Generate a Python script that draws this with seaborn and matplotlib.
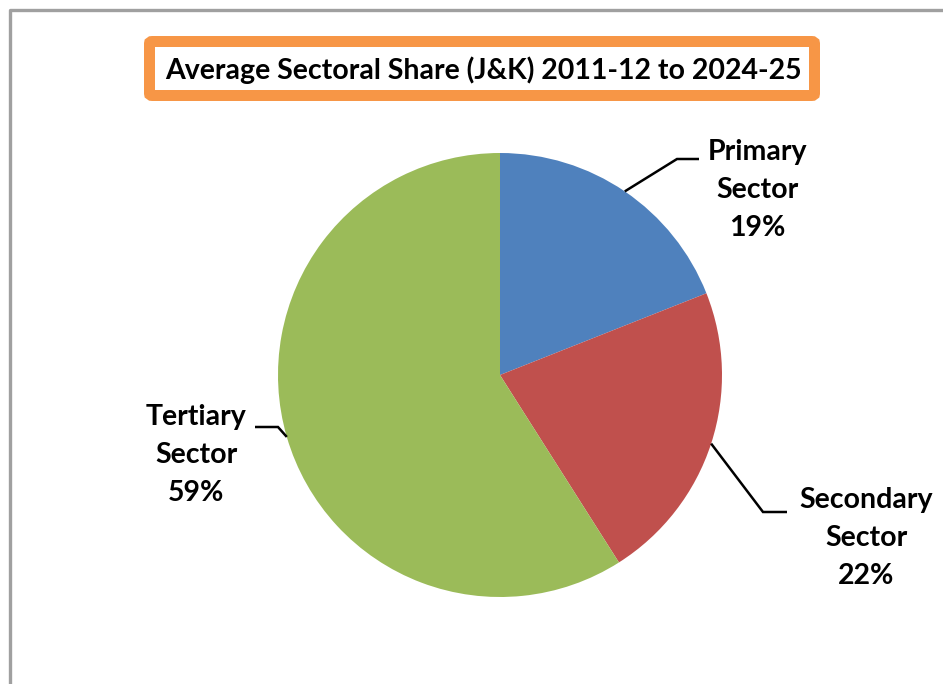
import numpy as np
import matplotlib
matplotlib.use("Agg")
import matplotlib.pyplot as plt
import matplotlib.patches as mpatches
from matplotlib.lines import Line2D
import seaborn as sns

# ---- data ----
sectors = ["Primary\nSector", "Secondary\nSector", "Tertiary\nSector"]
shares = [19, 22, 59]
colors = ["#4F81BD", "#C0504D", "#9BBB59"]
title = "Average Sectoral Share (J&K) 2011-12 to 2024-25"

sns.set_theme(style="white")
plt.rcParams['font.family'] = ['Lato', 'DejaVu Sans']

W, H = 943, 684
DPI = 100
fig = plt.figure(figsize=(W / DPI, H / DPI), dpi=DPI)
fig.patch.set_facecolor("white")

# pixel geometry of the pie
cx, cy, R = 500, 375, 222
ax = fig.add_axes([0, 0, 1, 1])
ax.set_axis_off()

wedges, _ = ax.pie(shares, colors=colors, startangle=90, counterclock=False,
                   radius=1.0, center=(0, 0),
                   wedgeprops=dict(linewidth=0, edgecolor="none"))
ax.set_xlim((0 - cx) / R, (W - cx) / R)
ax.set_ylim((cy - H) / R, cy / R)
ax.set_aspect("auto")

def px(x, y):
    return ((x - cx) / R, (cy - y) / R)

# label layout (pixel positions): elbow, end of leader, text centre
layout = [
    dict(elbow=(677, 159), end=(699, 159), text=(757, 190)),
    dict(elbow=(763, 512), end=(787, 512), text=(866, 538)),
    dict(elbow=(278, 427), end=(255, 427), text=(196, 455)),
]

for w, lab, val, lay in zip(wedges, sectors, shares, layout):
    ang = np.deg2rad((w.theta1 + w.theta2) / 2)
    p0 = (np.cos(ang), np.sin(ang))
    p1 = px(*lay["elbow"])
    p2 = px(*lay["end"])
    ax.plot([p0[0], p1[0], p2[0]], [p0[1], p1[1], p2[1]], color="black",
            lw=1.8, solid_joinstyle="miter", solid_capstyle="butt")
    tx, ty = px(*lay["text"])
    ax.text(tx, ty, f"{lab}\n{val}%", ha="center", va="center",
            multialignment="center", fontsize=20.5, fontweight="bold",
            color="black", linespacing=1.58)

# title with orange frame
fig.text(483 / W, 1 - 70 / H, title, ha="center", va="center",
         fontsize=20.5, fontweight="bold", color="black")
box = mpatches.FancyBboxPatch((149.5 / W, 1 - 95.5 / H), (814.5 - 149.5) / W,
                              (95.5 - 41.5) / H, boxstyle="round,pad=0,rounding_size=0.003",
                              transform=fig.transFigure, fill=False,
                              edgecolor="#F79646", linewidth=11 * 72 / DPI)
fig.add_artist(box)

# outer grey frame (left and top)
fig.add_artist(Line2D([10 / W, 10 / W, 1], [0, 1 - 10 / H, 1 - 10 / H],
                      transform=fig.transFigure, color="#A0A0A0", lw=2.4))

fig.savefig("out.png", dpi=DPI, facecolor="white")
